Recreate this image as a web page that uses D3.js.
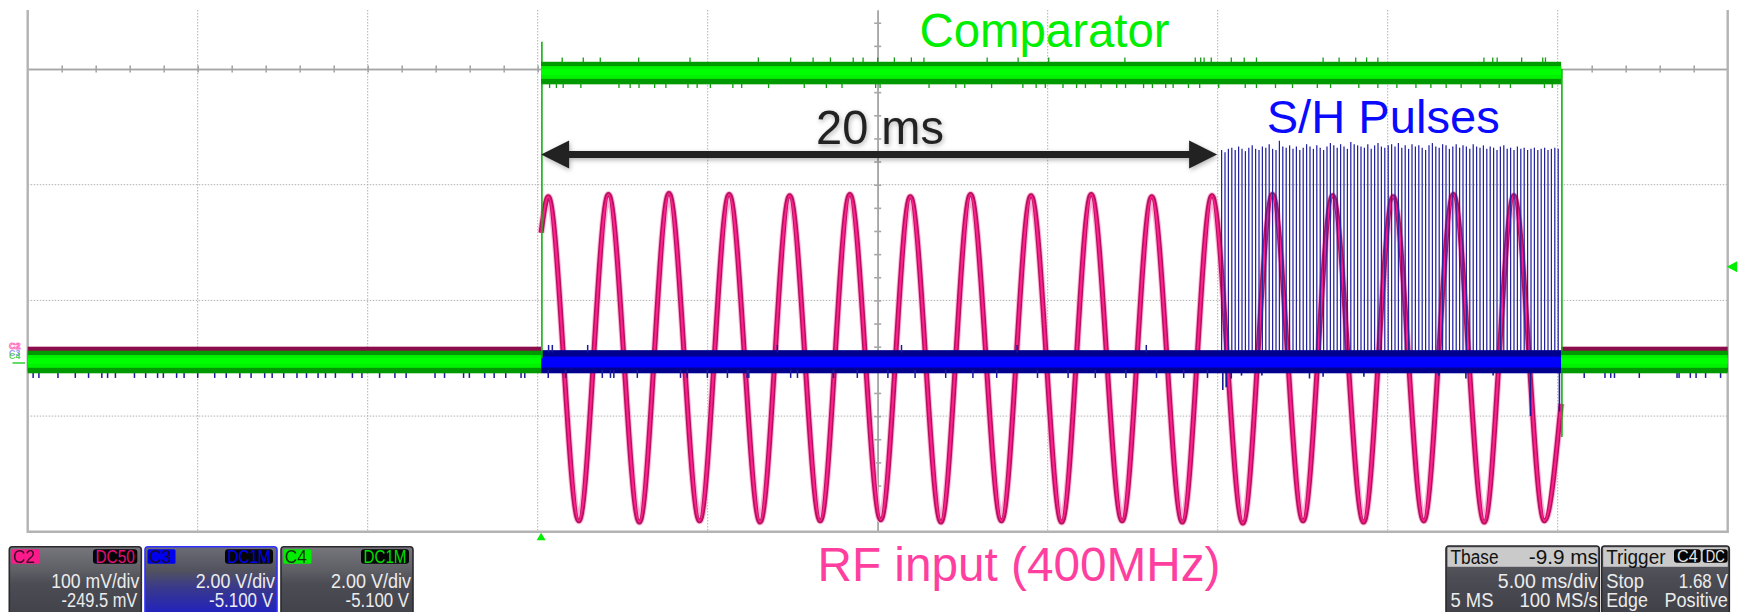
<!DOCTYPE html>
<html><head><meta charset="utf-8">
<script src="https://cdn.jsdelivr.net/npm/d3@7"></script>
<style>
html,body{margin:0;padding:0;background:#fff;overflow:hidden}
svg{display:block}
text{font-family:"Liberation Sans",Arial,sans-serif}
</style></head><body>
<svg id="c" width="1744" height="612"></svg>
<script>
// ================= DATA =================
// time in ms (trigger = 0), C2 in mV, C3/C4 in V
const rfPeakTimes   = [0.21,1.98,3.76,5.53,7.31,9.08,10.86,12.63,14.41,16.18,17.96,19.73,21.51,23.28,25.06,26.83,28.61];
const rfPeakMv      = [139,141,142,141,140,141,139,141,140,141,139,140,141,140,139,141,140];
const rfTroughTimes = [1.11,2.89,4.66,6.44,8.21,9.99,11.76,13.54,15.31,17.09,18.86,20.64,22.41,24.19,25.96,27.74,29.51];
const rfTroughMv    = [-141,-142,-141,-142,-141,-140,-142,-141,-142,-141,-142,-143,-141,-142,-141,-142,-141];
const rfStart = [0.0, 108];
const rfEnd   = [30.0, -40];

// comparator (C4) level segments
const compSegStart = [-15.1, 0.0, 30.0];
const compSegEnd   = [0.0, 30.0, 34.9];
const compSegV     = [0.035, 5.03, 0.035];
const compEdgeTimes = [0.0, 30.0];
const compEdgeTopV  = [5.57, 5.10];
const compEdgeLowV  = [0.10, -1.26];
const compUpTimes = [0.62,1.24,1.74,2.87,4.38,6.39,7.34,8.0,8.51,9.18,9.47,9.9,10.39,10.89,11.26,13.12,14.03,14.93,17.17,19.24,19.4,19.5,19.71,20.3,20.68,21.04,23.0,23.47,23.96,24.28,24.61,27.73,27.99,28.12,28.84,29.46,29.54];
const compDownTimes = [0.25,0.45,0.65,1.17,2.29,2.62,2.88,3.34,3.67,4.32,4.59,4.98,5.64,5.9,6.69,7.74,8.39,8.85,9.84,9.97,11.41,12.2,12.46,13.25,14.17,14.56,14.83,15.35,15.75,16.01,16.47,16.93,17.19,17.72,17.98,18.37,18.59,19.04,19.37,19.93,20.71,21.04,21.6,22.1,22.83,23.22,24.05,24.61,25.17,25.73,26.17,26.62,27.06,27.62,28.18,28.51,29.51,29.74];

// S/H pulses (C3): 10 kHz train from 20 ms to 30 ms, pulse heights in V
const shStartMs = 20.0, shPeriodMs = 0.1;
const shPulseV = [3.70,3.66,3.72,3.74,3.70,3.76,3.72,3.68,3.74,3.78,
3.72,3.70,3.76,3.74,3.80,3.72,3.70,3.86,3.76,3.74,
3.78,3.72,3.76,3.70,3.74,3.80,3.76,3.72,3.78,3.74,
3.70,3.76,3.82,3.78,3.74,3.80,3.76,3.72,3.84,3.80,
3.78,3.76,3.74,3.80,3.72,3.78,3.82,3.76,3.74,3.78,
3.80,3.76,3.82,3.74,3.78,3.72,3.80,3.76,3.78,3.74,
3.70,3.78,3.82,3.76,3.74,3.80,3.78,3.72,3.76,3.80,
3.74,3.78,3.76,3.72,3.80,3.76,3.74,3.78,3.72,3.76,
3.74,3.70,3.76,3.78,3.72,3.74,3.70,3.76,3.72,3.74,
3.70,3.72,3.74,3.70,3.72,3.74,3.70,3.72,3.74,3.72];
const shDownTimes = [20.05,20.15,20.3,20.6,21.2,22.6,23.0,24.2,26.4,27.2,28.0,29.1,29.95];
const shDownV     = [-0.45,-0.40,-0.25,-0.20,-0.20,-0.25,-0.22,-0.22,-0.20,-0.25,-0.20,-0.90,-0.82];
// C3 baseline noise spikes
const blueSpikeDownTimes = [-14.94,-14.77,-14.21,-13.7,-13.31,-12.92,-12.75,-12.52,-11.96,-11.63,-11.28,-11.11,-10.72,-10.5,-10.1,-9.6,-9.26,-8.86,-8.53,-8.13,-7.91,-7.57,-7.18,-6.9,-6.56,-6.34,-6.05,-5.55,-5.27,-4.75,-4.3,-3.97,-3.12,-2.84,-2.28,-2.11,-1.66,-1.38,-1.04,-0.59,-0.48,
 0.21,0.72,1.8,2.04,2.14,2.83,4.1,4.3,4.89,5.48,6.06,6.11,7.34,7.54,8.6,9.3,10.2,11.0,11.9,12.7,13.4,14.6,15.5,16.3,17.2,18.1,18.9,19.6,
 30.68,31.29,31.46,31.57,32.3,33.41,33.47,33.8,33.97,34.25,34.69];
const blueSpikeUpTimes = [0.22,0.33,1.37,6.95,10.6,14.0,17.8];

// grid / axes (divisions)
const gridTimes = [-10.1,-5.1,-0.1,4.9,14.9,19.9,24.9,29.9];
const centerTime = 9.9;
const gridDivs = [-1,-2,-3];

// panels
const chNames = ["C2","C3","C4"];
const chCoupling = ["DC50","DC1M","DC1M"];
const chScale = ["100 mV/div","2.00 V/div","2.00 V/div"];
const chOffset = ["-249.5 mV","-5.100 V","-5.100 V"];
const chColor = ["#ff1a8c","#0000f0","#00ee00"];
const chText  = ["#e0107a","#0000f0","#00dd00"];
const tbaseRows = [["Tbase","-9.9 ms"],["","5.00 ms/div"],["5 MS","100 MS/s"]];
const trigRows  = [["Trigger",""],["Stop","1.68 V"],["Edge","Positive"]];
const trigLevelV = 1.68;

// ================= SCALES =================
const svg = d3.select("#c");
const X0 = 27.7, X1 = 1727.7, YTOP = 10, YAX = 69, YBOT = 531.8;
const x = d3.scaleLinear().domain([-15.1, 34.9]).range([X0, X1]);
const yDiv = d3.scaleLinear().domain([0, -4]).range([YAX, YBOT]);
const yC2 = d3.scaleLinear().domain([249.5 - 400, 249.5]).range([YBOT, YAX]);
const yC3 = d3.scaleLinear().domain([5.1 - 8, 5.1]).range([YBOT, YAX]);
const yC4 = yC3.copy();

const defs = svg.append("defs");
function lg(id, stops){
  const g = defs.append("linearGradient").attr("id", id).attr("x1",0).attr("y1",0).attr("x2",0).attr("y2",1);
  stops.forEach(([o,c]) => g.append("stop").attr("offset", o).attr("stop-color", c));
}
lg("gGray", [[0,"#76767c"],[0.3,"#5e5e65"],[0.46,"#4c4c54"],[1,"#3e3e46"]]);
lg("gBlue", [[0,"#6c6c76"],[0.3,"#52525e"],[0.5,"#3a3a8a"],[1,"#1515d8"]]);
lg("gDark", [[0,"#626268"],[0.4,"#4c4c54"],[1,"#3c3c44"]]);
const f = defs.append("filter").attr("id","sh").attr("x","-10%").attr("y","-50%").attr("width","120%").attr("height","200%");
f.append("feDropShadow").attr("dx",1).attr("dy",2).attr("stdDeviation",2.5).attr("flood-color","#000").attr("flood-opacity",0.3);

// ================= GRID =================
const grid = svg.append("g");
grid.selectAll("line.gv").data(gridTimes).join("line")
  .attr("x1", d => x(d)).attr("x2", d => x(d)).attr("y1", YTOP).attr("y2", YBOT)
  .attr("stroke", "#b0b0b0").attr("stroke-width", 1).attr("stroke-dasharray", "1.5,1.5");
grid.selectAll("line.gh").data(gridDivs).join("line")
  .attr("x1", X0).attr("x2", X1).attr("y1", d => yDiv(d)).attr("y2", d => yDiv(d))
  .attr("stroke", "#b0b0b0").attr("stroke-width", 1).attr("stroke-dasharray", "1.5,1.5");

const minorTimes = d3.range(-14.1, 34.0, 1);
const minorDivs = d3.range(0.4, -3.95, -0.2);
function styleAxis(g){ g.selectAll("path,line").attr("stroke","#a6a6a6").attr("stroke-width",1.6); }
svg.append("g").attr("transform",`translate(0,${YAX})`)
  .call(d3.axisBottom(x).tickValues(minorTimes).tickSize(3.5).tickSizeOuter(0).tickFormat("")).call(styleAxis);
svg.append("g").attr("transform",`translate(0,${YAX})`)
  .call(d3.axisTop(x).tickValues(minorTimes).tickSize(3.5).tickSizeOuter(0).tickFormat("")).call(styleAxis);
const yAxisScale = yDiv.copy().domain([0.51, -4]).range([YTOP, YBOT]);
svg.append("g").attr("transform",`translate(${x(centerTime)},0)`)
  .call(d3.axisLeft(yAxisScale).tickValues(minorDivs).tickSize(3.5).tickSizeOuter(0).tickFormat("")).call(styleAxis);
svg.append("g").attr("transform",`translate(${x(centerTime)},0)`)
  .call(d3.axisRight(yAxisScale).tickValues(minorDivs).tickSize(3.5).tickSizeOuter(0).tickFormat("")).call(styleAxis);
svg.selectAll(".domain").attr("stroke","#a6a6a6");
// frame
svg.append("path").attr("d", `M${X0},${YTOP}V${YBOT}H${X1}V${YTOP}`)
  .attr("fill","none").attr("stroke","#b3b3b3").attr("stroke-width",2.4);

// ================= TRACES =================
const tr = svg.append("g");
// C2 baseline (pre / post trigger)
[[-15.1, 0.0],[30.0, 34.9]].forEach(([a,b]) => {
  tr.append("rect").attr("x", x(a)).attr("width", x(b)-x(a))
    .attr("y", yC2(9.5)).attr("height", yC2(-12) - yC2(9.5)).attr("fill", "#8a0c4a");
});
// C2 sine
const rfPts = [rfStart]
  .concat(rfPeakTimes.map((t,i)=>[t, rfPeakMv[i]]))
  .concat(rfTroughTimes.map((t,i)=>[t, rfTroughMv[i]]))
  .concat([rfEnd])
  .sort((a,b)=>a[0]-b[0]);
const rfLine = d3.line().x(d=>x(d[0])).y(d=>yC2(d[1])).curve(d3.curveMonotoneX);
tr.append("path").attr("d", rfLine(rfPts)).attr("fill","none").attr("stroke","#ffb3d6").attr("stroke-width",7).attr("stroke-linejoin","round");
tr.append("path").attr("d", rfLine(rfPts)).attr("fill","none").attr("stroke","#b3135c").attr("stroke-width",5).attr("stroke-linejoin","round");
tr.append("path").attr("d", rfLine(rfPts)).attr("fill","none").attr("stroke","#ff1f8f").attr("stroke-width",2).attr("stroke-linejoin","round");

// C3 S/H pulses
const shIdx = d3.scaleLinear().domain([0, 1]).range([shStartMs, shStartMs + shPeriodMs]);
tr.append("g").selectAll("line").data(shPulseV).join("line")
  .attr("x1", (d,i) => x(shIdx(i)) + 0.5).attr("x2", (d,i) => x(shIdx(i)) + 0.5)
  .attr("y1", d => yC3(d))
  .attr("y2", yC3(0.04))
  .attr("stroke", "#2323a0").attr("stroke-width", 1.25);
tr.append("g").selectAll("line").data(shDownTimes).join("line")
  .attr("x1", d=>x(d)).attr("x2", d=>x(d)).attr("y1", yC3(0)).attr("y2", (d,i)=>yC3(shDownV[i]))
  .attr("stroke", "#1a1a96").attr("stroke-width", 1.6);
// C3 baseline band (0 - 30 ms)
tr.append("rect").attr("x", x(0)).attr("width", x(30)-x(0))
  .attr("y", yC3(0.24)).attr("height", yC3(-0.16)-yC3(0.24)).attr("fill", "#00008e");
tr.append("rect").attr("x", x(0)).attr("width", x(30)-x(0))
  .attr("y", yC3(0.13)).attr("height", yC3(-0.06)-yC3(0.13)).attr("fill", "#0000ff");
tr.append("g").selectAll("line").data(blueSpikeDownTimes).join("line")
  .attr("x1", d=>x(d)).attr("x2", d=>x(d)).attr("y1", yC3(-0.1)).attr("y2", yC3(-0.24))
  .attr("stroke", "#1a1a9a").attr("stroke-width", 1.5);
tr.append("g").selectAll("line").data(blueSpikeUpTimes).join("line")
  .attr("x1", d=>x(d)).attr("x2", d=>x(d)).attr("y1", yC3(0.2)).attr("y2", yC3(0.33))
  .attr("stroke", "#1a1a9a").attr("stroke-width", 1.5);

// C4 comparator
const cg = tr.append("g");
cg.selectAll("line.e").data(compEdgeTimes).join("line")
  .attr("x1", d=>x(d)+0.8).attr("x2", d=>x(d)+0.8)
  .attr("y1", (d,i)=>yC4(compEdgeTopV[i])).attr("y2", (d,i)=>yC4(compEdgeLowV[i]))
  .attr("stroke", "#10b010").attr("stroke-width", 1.6);
cg.selectAll("line.u").data(compUpTimes).join("line")
  .attr("x1", d=>x(d)).attr("x2", d=>x(d)).attr("y1", yC4(5.1)).attr("y2", yC4(5.30))
  .attr("stroke", "#149a14").attr("stroke-width", 1.3);
cg.selectAll("line.d").data(compDownTimes).join("line")
  .attr("x1", d=>x(d)).attr("x2", d=>x(d)).attr("y1", yC4(4.95)).attr("y2", yC4(4.77))
  .attr("stroke", "#149a14").attr("stroke-width", 1.3);
compSegV.forEach((v,i) => {
  const a = compSegStart[i], b = compSegEnd[i];
  cg.append("rect").attr("x", x(a)).attr("width", x(b)-x(a))
    .attr("y", yC4(v+0.195)).attr("height", yC4(v-0.195)-yC4(v+0.195)).attr("fill", "#009a00");
  cg.append("rect").attr("x", x(a)).attr("width", x(b)-x(a))
    .attr("y", yC4(v+0.12)).attr("height", yC4(v-0.1)-yC4(v+0.12)).attr("fill", "#00f200");
  cg.append("rect").attr("x", x(a)).attr("width", x(b)-x(a))
    .attr("y", yC4(v+0.07)).attr("height", yC4(v-0.03)-yC4(v+0.07)).attr("fill", "#00ff00");
});

// ================= ANNOTATIONS =================
const ann = svg.append("g");
ann.append("text").attr("x", 919.5).attr("y", 46.7).attr("font-size", 48).attr("fill", "#00ee00")
  .attr("textLength", 250).attr("lengthAdjust","spacingAndGlyphs").text("Comparator");
ann.append("text").attr("x", 1266.7).attr("y", 132.7).attr("font-size", 47).attr("fill", "#0a0aff")
  .attr("textLength", 233).attr("lengthAdjust","spacingAndGlyphs").text("S/H Pulses");
ann.append("text").attr("x", 817.5).attr("y", 581).attr("font-size", 48).attr("fill", "#ff3fa0")
  .attr("textLength", 403).attr("lengthAdjust","spacingAndGlyphs").text("RF input (400MHz)");
const arr = ann.append("g").attr("filter","url(#sh)");
arr.append("text").attr("x", 816).attr("y", 144).attr("font-size", 48).attr("fill", "#222")
  .attr("textLength", 128).attr("lengthAdjust","spacingAndGlyphs").text("20 ms");
const ax0 = x(0), ax1 = x(20) - 4, ay = 154.5;
arr.append("path").attr("fill","#222")
  .attr("d", `M${ax0},${ay} L${ax0+28},${ay-14} L${ax0+28},${ay-3.5} L${ax1-28},${ay-3.5} L${ax1-28},${ay-14} L${ax1},${ay} L${ax1-28},${ay+14} L${ax1-28},${ay+3.5} L${ax0+28},${ay+3.5} L${ax0+28},${ay+14} Z`);

// markers
svg.append("path").attr("fill","#00ee00")
  .attr("d", `M${X1-1},${yC4(trigLevelV)} L${X1+9.5},${yC4(trigLevelV)-5.5} L${X1+9.5},${yC4(trigLevelV)+5.5} Z`);
svg.append("path").attr("fill","#00ee00")
  .attr("d", `M${x(0)},${YBOT+1} L${x(0)+4.5},${YBOT+8.5} L${x(0)-4.5},${YBOT+8.5} Z`);
const mk = svg.append("g").attr("font-size", 9).attr("font-weight","bold");
mk.append("text").attr("x", 9).attr("y", 349).attr("fill","none").attr("stroke","#ff66bb").attr("stroke-width",0.8).text("C2");
mk.append("text").attr("x", 9).attr("y", 356).attr("fill","#7a7aff").attr("opacity",0.8).text("C3");
mk.append("text").attr("x", 9).attr("y", 359).attr("fill","#33cc33").attr("opacity",0.8).text("C4");
mk.append("line").attr("x1", 12.5).attr("x2", 25).attr("y1", 363).attr("y2", 363).attr("stroke","#22cc22").attr("stroke-width",1.4);

// ================= PANELS =================
const panelX = [9.3, 145, 281], panelW = 132, PY = 546.7;
const pg = svg.append("g");
chNames.forEach((n,i) => {
  const px = panelX[i];
  pg.append("rect").attr("x", px).attr("y", PY).attr("width", panelW).attr("height", 80).attr("rx", 3)
    .attr("fill", i===1 ? "url(#gBlue)" : "url(#gGray)")
    .attr("stroke", i===1 ? "#3030ff" : "#2a2a2e").attr("stroke-width", 1.6);
  pg.append("rect").attr("x", px+2.5).attr("y", 549.3).attr("width", 28).attr("height", 14.5).attr("rx",1.5).attr("fill", chColor[i]);
  pg.append("text").attr("x", px+3.8).attr("y", 562.6).attr("font-size", 18).attr("fill", "#1a0a14").attr("opacity",0.85)
    .attr("textLength", 22).attr("lengthAdjust","spacingAndGlyphs").text(n);
  const bw = i===0 ? 44.3 : 48;
  pg.append("rect").attr("x", px+panelW-4-bw).attr("y", 549.3).attr("width", bw).attr("height", 14.5).attr("rx",3).attr("fill", "#050505");
  pg.append("text").attr("x", px+panelW-4-bw/2).attr("y", 562.6).attr("text-anchor","middle").attr("font-size", 18)
    .attr("fill", chText[i]).attr("textLength", bw-5).attr("lengthAdjust","spacingAndGlyphs").text(chCoupling[i]);
  const l2 = [88, 79.3, 80][i], l3 = [75.7, 64, 63.4][i];
  pg.append("text").attr("x", px+panelW-2).attr("y", 588.3).attr("text-anchor","end").attr("font-size", 20)
    .attr("fill", "#ececec").attr("textLength", l2).attr("lengthAdjust","spacingAndGlyphs").text(chScale[i]);
  pg.append("text").attr("x", px+panelW-4).attr("y", 607.4).attr("text-anchor","end").attr("font-size", 20)
    .attr("fill", "#ececec").attr("textLength", l3).attr("lengthAdjust","spacingAndGlyphs").text(chOffset[i]);
});

// right panels
function rPanel(px, w, rows, lens){
  pg.append("rect").attr("x", px).attr("y", 546).attr("width", w).attr("height", 80).attr("rx", 3)
    .attr("fill", "url(#gDark)").attr("stroke", "#2a2a2e").attr("stroke-width", 1.6);
  pg.append("rect").attr("x", px+1.5).attr("y", 547.3).attr("width", w-3).attr("height", 19.5).attr("fill", "#cacaca");
  const base = [564.3, 588.3, 607.3];
  rows.forEach((r,k) => {
    const col = k===0 ? "#111" : "#ececec";
    if (r[0]) pg.append("text").attr("x", px+4.5).attr("y", base[k]).attr("font-size", 20).attr("fill", col)
      .attr("textLength", lens[k][0]).attr("lengthAdjust","spacingAndGlyphs").text(r[0]);
    if (r[1]) pg.append("text").attr("x", px+w-1.5).attr("y", base[k]).attr("text-anchor","end").attr("font-size", 20).attr("fill", col)
      .attr("textLength", lens[k][1]).attr("lengthAdjust","spacingAndGlyphs").text(r[1]);
  });
}
rPanel(1446, 153.3, tbaseRows, [[48,69],[0,100],[43,78.3]]);
rPanel(1601.7, 127.6, trigRows, [[59.3,0],[37.7,49],[41.6,63.3]]);
// trigger source boxes
[["C4",1674,26.7],["DC",1702.7,25]].forEach(([t,bx,bw]) => {
  pg.append("rect").attr("x", bx).attr("y", 549.3).attr("width", bw).attr("height", 13.5).attr("rx", 3).attr("fill", "#050505");
  pg.append("text").attr("x", bx+bw/2).attr("y", 561.8).attr("text-anchor","middle").attr("font-size", 16)
    .attr("fill", "#e6e6e6").attr("textLength", bw-6).attr("lengthAdjust","spacingAndGlyphs").text(t);
});
</script>
</body></html>
